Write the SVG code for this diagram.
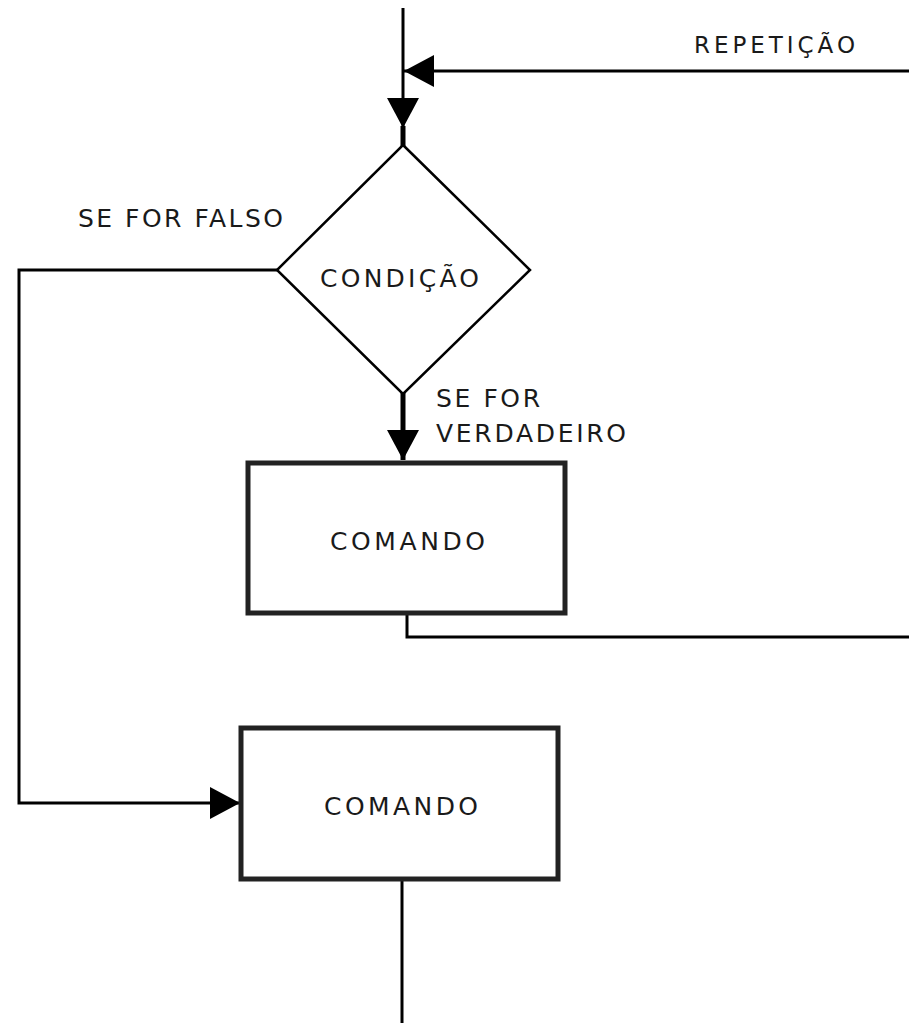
<svg xmlns="http://www.w3.org/2000/svg" width="909" height="1023" viewBox="0 0 909 1023">
<style>
.t{font-family:"DejaVu Sans","Liberation Sans",sans-serif;fill:#1a1a1a;font-size:25px;}
.ln{fill:none;stroke:#000;stroke-width:3;}
.thick{fill:none;stroke:#000;stroke-width:5;}
.box{fill:#fff;stroke:#222;stroke-width:5;}
.dia{fill:#fff;stroke:#000;stroke-width:2.5;}
</style>
<defs>
<marker id="ah" markerUnits="userSpaceOnUse" markerWidth="32" markerHeight="32" refX="30" refY="16" orient="auto">
<path d="M0,0 L30,16 L0,32 Z" fill="#000"/>
</marker>
</defs>
<rect width="909" height="1023" fill="#fff"/>
<g id="connectors">
<line class="ln" x1="403" y1="8" x2="403" y2="128" marker-end="url(#ah)"/>
<line class="thick" x1="403" y1="126" x2="403" y2="146"/>
<line class="ln" x1="909" y1="71" x2="404" y2="71" marker-end="url(#ah)"/>
<polyline class="ln" points="278,270 19,270 19,803 240,803" marker-end="url(#ah)"/>
<line class="thick" x1="403" y1="393" x2="403" y2="460" marker-end="url(#ah)"/>
<polyline class="ln" points="407,613 407,637 909,637"/>
<line class="ln" x1="402" y1="880" x2="402" y2="1023"/>
</g>
<g id="label-repeticao"><text class="t" x="694" y="53" style="font-size:23px" textLength="161" lengthAdjust="spacing">REPETIÇÃO</text></g>
<g id="label-falso"><text class="t" x="78" y="227" textLength="205" lengthAdjust="spacing">SE FOR FALSO</text></g>
<g id="label-verdadeiro">
<text class="t" x="436" y="407" textLength="104" lengthAdjust="spacing">SE FOR</text>
<text class="t" x="436" y="442" textLength="190" lengthAdjust="spacing">VERDADEIRO</text>
</g>
<g id="condicao">
<polygon class="dia" points="403,145 530,270 403,394 277,270"/>
<text class="t" x="320" y="287" textLength="159" lengthAdjust="spacing">CONDIÇÃO</text>
</g>
<g id="comando1">
<rect class="box" x="248" y="463" width="317" height="150"/>
<text class="t" x="330" y="550" textLength="155" lengthAdjust="spacing">COMANDO</text>
</g>
<g id="comando2">
<rect class="box" x="241" y="728" width="317" height="151"/>
<text class="t" x="324" y="815" textLength="154" lengthAdjust="spacing">COMANDO</text>
</g>
</svg>
